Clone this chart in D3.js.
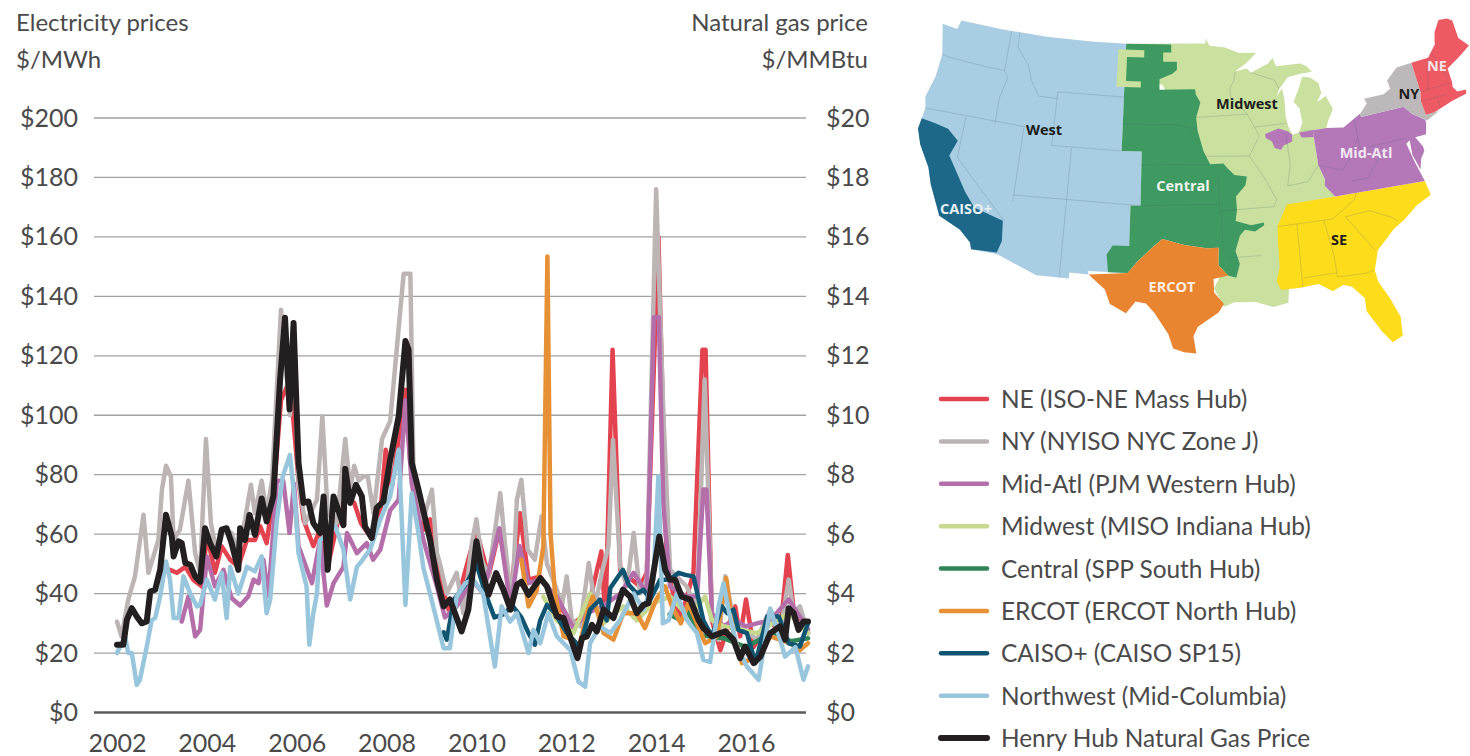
<!DOCTYPE html>
<html><head><meta charset="utf-8">
<script src="https://cdn.jsdelivr.net/npm/d3@7"></script>
<style>
html,body{margin:0;padding:0;background:#fff;overflow:hidden}
svg{display:block}
text{font-family:Lato,"Open Sans",sans-serif;fill:#4a4a4a}
</style></head><body>
<svg id="c" width="1470" height="756"></svg>
<script>
// ---- tick labels ----
const yearTicks=[2002,2004,2006,2008,2010,2012,2014,2016];
const priceTicks=[0,20,40,60,80,100,120,140,160,180,200];
const gasTicks=[0,2,4,6,8,10,12,14,16,18,20];
// ---- series: [year, $/MWh] ----
const nePrice=[[2003.18,48],[2003.33,47],[2003.52,49],[2003.7,44.6],[2003.89,42.4],[2004,60],[2004.18,47],[2004.33,55.9],[2004.52,51.4],[2004.7,49],[2004.89,58],[2005.07,58],[2005.19,62.6],[2005.33,57],[2005.48,72.7],[2005.65,105],[2005.85,112],[2006.04,78],[2006.15,65],[2006.26,60.4],[2006.37,56],[2006.52,61.5],[2006.69,49],[2006.89,62.6],[2007.08,72.7],[2007.28,70.5],[2007.43,63.7],[2007.65,59],[2007.87,69],[2007.98,88.4],[2008.12,76],[2008.42,108.6],[2008.53,84],[2008.82,61.5],[2008.97,65],[2009.12,49],[2009.38,34.6],[2009.56,36.8],[2010,61.5],[2010.27,45.8],[2010.51,61.5],[2010.76,40],[2010.97,67],[2011.16,44.7],[2011.42,45.8],[2011.71,39],[2011.9,34.6],[2012.16,30],[2012.46,33.4],[2012.78,54.2],[2012.87,31],[2013.03,122],[2013.2,48],[2013.64,42.4],[2013.79,47],[2014.05,160],[2014.24,48],[2014.54,31],[2014.83,47],[2015.03,122],[2015.1,122],[2015.24,31],[2015.43,21],[2015.65,31],[2015.76,35.7],[2015.87,25.6],[2016,38],[2016.17,22],[2016.54,31],[2016.76,26.7],[2016.93,53],[2017.06,34.6],[2017.2,31],[2017.38,26.7]];
const nyPrice=[[2002,30.6],[2002.1,25.6],[2002.25,38],[2002.4,45.8],[2002.59,66.5],[2002.7,47],[2002.92,58],[2003,75],[2003.09,83],[2003.2,79.5],[2003.26,58],[2003.4,61.5],[2003.59,78],[2003.74,53.6],[2003.85,47],[2003.98,92],[2004.09,63.7],[2004.22,53.6],[2004.37,61.5],[2004.55,60.4],[2004.7,53.6],[2004.85,64.9],[2004.98,76.6],[2005.07,67],[2005.22,78],[2005.33,67],[2005.45,78],[2005.65,135.5],[2005.85,100],[2005.93,125],[2006.04,78],[2006.19,63.7],[2006.45,71.6],[2006.57,99.7],[2006.69,67],[2006.89,63.7],[2007.08,92],[2007.19,75],[2007.28,83],[2007.38,78],[2007.49,79.5],[2007.58,79.5],[2007.71,67],[2007.9,92],[2008.08,98],[2008.38,147.6],[2008.53,147.6],[2008.6,80],[2008.71,67],[2008.82,65],[2009.01,75],[2009.12,53.6],[2009.19,50],[2009.34,40],[2009.56,47],[2009.71,33.4],[2009.9,57],[2010,65],[2010.12,51.4],[2010.27,45.8],[2010.53,73.8],[2010.64,56],[2010.79,35.7],[2010.9,71.6],[2011,78.3],[2011.14,54.8],[2011.3,51.4],[2011.45,66],[2011.57,50],[2011.79,41.3],[2011.9,35.7],[2012.01,45.8],[2012.12,31.2],[2012.31,29],[2012.5,50.3],[2012.64,35.7],[2012.79,47],[2012.94,56],[2013.04,91.7],[2013.2,49],[2013.35,42.4],[2013.5,60.4],[2013.64,40],[2013.79,44.7],[2014,176],[2014.16,100.8],[2014.31,48],[2014.68,42.4],[2014.91,34.6],[2015.08,112],[2015.24,33.4],[2015.39,24.5],[2015.54,45.8],[2015.72,31.2],[2015.98,27.8],[2016.24,24.5],[2016.54,34.6],[2016.76,26.7],[2016.95,44.7],[2017.06,33.4],[2017.2,35.7],[2017.38,26.7]];
const midAtlPrice=[[2003.44,30.6],[2003.59,39],[2003.74,25.6],[2003.85,27.8],[2004,52.5],[2004.18,42.4],[2004.37,48],[2004.55,38.5],[2004.74,36],[2004.92,39],[2005.04,44.7],[2005.15,43.5],[2005.26,51.4],[2005.37,39],[2005.56,78],[2005.7,78],[2005.84,60.4],[2005.94,77],[2006.04,56],[2006.34,43.5],[2006.52,58],[2006.67,36],[2006.82,43.5],[2007.04,49],[2007.12,60.4],[2007.34,53.6],[2007.56,57],[2007.7,51.4],[2007.86,54.8],[2008.08,68],[2008.27,71.6],[2008.42,105],[2008.56,77],[2008.82,58],[2009.12,42.4],[2009.3,32],[2009.56,35.7],[2009.9,44.7],[2010.15,40],[2010.51,62],[2010.76,35.7],[2010.96,56],[2011.16,43.5],[2011.42,44.7],[2011.79,39],[2012.16,28.4],[2012.46,33.4],[2012.81,35.7],[2013.2,40],[2013.5,47],[2013.79,40],[2013.95,133],[2014.06,133],[2014.16,70],[2014.31,42.4],[2014.68,39],[2014.91,39],[2015.05,75],[2015.12,75],[2015.24,33.4],[2015.5,29],[2015.72,31],[2016,29],[2016.24,30],[2016.54,31],[2016.95,38],[2017.38,28]];
const midwestPrice=[[2011.49,39],[2011.79,31],[2012.16,26.7],[2012.53,40],[2012.83,30],[2013.27,35.7],[2013.57,31],[2013.94,36.8],[2014.31,39],[2014.72,32.3],[2015.09,39],[2015.24,31],[2015.5,29],[2016.24,26.7],[2016.95,33.4],[2017.38,26.7]];
const centralPrice=[[2014.3,33],[2014.55,31],[2014.7,34],[2015,26],[2015.5,25],[2016,22],[2016.6,27],[2017,24],[2017.38,25]];
const ercotPrice=[[2011,51.4],[2011.16,35.7],[2011.34,41],[2011.49,56],[2011.58,153.4],[2011.65,60],[2011.75,40],[2011.94,25.6],[2012.16,24.5],[2012.27,21],[2012.46,33.4],[2012.59,39],[2012.83,26.7],[2013.05,24.5],[2013.27,33.4],[2013.57,33.4],[2013.75,28.4],[2014,38],[2014.2,42.4],[2014.35,35.7],[2014.55,30],[2014.72,36.8],[2015.09,23.3],[2015.35,25.6],[2015.56,45.2],[2015.72,26.7],[2015.91,16.6],[2016.24,18.8],[2016.54,25.6],[2016.98,23.3],[2017.2,21],[2017.38,23.3]];
const caisoPrice=[[2009.27,27],[2009.34,24.5],[2009.5,38],[2009.8,44],[2010,50],[2010.2,40],[2010.4,32],[2010.6,33],[2010.8,36],[2011,32],[2011.16,26.7],[2011.3,22.8],[2011.42,31],[2011.57,36.2],[2011.75,33.4],[2012,27],[2012.3,22],[2012.53,34.6],[2012.75,38],[2012.9,31],[2012.98,41.9],[2013.26,48],[2013.39,43],[2013.57,40],[2013.72,41.3],[2013.87,38],[2014.09,44.7],[2014.31,44.7],[2014.5,47],[2014.65,46.3],[2014.83,45.8],[2015.05,31],[2015.24,25.6],[2015.46,35.7],[2015.58,33.4],[2015.72,34.6],[2015.83,27.8],[2016.02,26.7],[2016.21,16.6],[2016.47,32.3],[2016.73,32.3],[2016.95,23.3],[2017.2,22.2],[2017.38,30]];
const northwestPrice=[[2002,20],[2002.18,25.6],[2002.25,20],[2002.33,20],[2002.44,9.3],[2002.51,11],[2002.66,22],[2002.77,31],[2002.85,31.8],[2002.96,39],[2003.09,50.8],[2003.18,44.7],[2003.26,31.8],[2003.37,31.8],[2003.48,45.8],[2003.63,40],[2003.78,35.7],[2003.85,36.2],[2004,44.7],[2004.18,38],[2004.33,47],[2004.44,31.8],[2004.52,49],[2004.7,40],[2004.89,49],[2005.07,47.5],[2005.22,52.5],[2005.33,33.4],[2005.41,38],[2005.56,65],[2005.69,79.5],[2005.85,86.7],[2005.97,69],[2006.04,53.6],[2006.22,42.4],[2006.28,22.8],[2006.37,33.4],[2006.45,40],[2006.52,58],[2006.86,62.6],[2007.04,54.8],[2007.19,38],[2007.34,49],[2007.45,51],[2007.64,55],[2007.86,64.9],[2008.08,72.7],[2008.27,88.4],[2008.42,36.2],[2008.56,73.8],[2008.71,60.4],[2008.82,48.6],[2009.05,35],[2009.27,21.6],[2009.41,21.6],[2009.56,39],[2009.75,43.5],[2009.93,44.7],[2010.15,40],[2010.41,15.5],[2010.56,35.7],[2010.75,30.6],[2010.9,33.4],[2011.16,20],[2011.27,27.8],[2011.42,23.3],[2011.6,33.4],[2011.79,25.6],[2012.09,21],[2012.27,10.4],[2012.42,8.7],[2012.53,23.3],[2012.75,29],[2012.98,26.7],[2013.2,31.2],[2013.5,40],[2013.72,34.6],[2013.94,44.7],[2014.05,79.5],[2014.15,30],[2014.28,31],[2014.46,40],[2014.68,31.2],[2014.91,26.7],[2015.05,17.7],[2015.2,17],[2015.39,35.7],[2015.5,43.5],[2015.61,34.6],[2015.8,22],[2016.02,15.5],[2016.28,11],[2016.54,35],[2016.76,24.5],[2016.87,18.8],[2017.1,22],[2017.28,11],[2017.38,15.5]];
const henryHubOnPriceScale=[[2002,22.8],[2002.14,22.8],[2002.22,31.2],[2002.33,35.1],[2002.44,32.3],[2002.55,30],[2002.66,30.6],[2002.74,40.7],[2002.85,41.3],[2002.96,48],[2003.09,66.5],[2003.22,59.2],[2003.26,52.5],[2003.37,57.6],[2003.44,57],[2003.52,50.3],[2003.63,49.7],[2003.74,45.8],[2003.85,44],[2003.96,62],[2004.07,57],[2004.21,52.5],[2004.33,61.5],[2004.44,62],[2004.55,57],[2004.7,48],[2004.74,62],[2004.85,58],[2004.95,66.5],[2005.07,59.8],[2005.22,72],[2005.33,64.3],[2005.48,72.7],[2005.63,112],[2005.74,132.8],[2005.84,102],[2005.93,131],[2006.04,84],[2006.15,70.5],[2006.26,71],[2006.37,63.7],[2006.52,60.4],[2006.6,72.7],[2006.69,48],[2006.82,72.7],[2007.04,63],[2007.08,82],[2007.19,70.5],[2007.32,76.6],[2007.45,72.7],[2007.52,62.6],[2007.67,58.7],[2007.78,68.8],[2007.93,71],[2008.08,85],[2008.27,99.7],[2008.42,125],[2008.49,122],[2008.56,84],[2008.71,75],[2008.97,58],[2009.12,44.7],[2009.27,35.7],[2009.41,38],[2009.67,27.3],[2009.82,34.6],[2010,57.6],[2010.12,48],[2010.27,39.6],[2010.44,46.9],[2010.6,41.3],[2010.76,34.6],[2010.9,43],[2011,44],[2011.16,39.6],[2011.42,45.2],[2011.57,42.4],[2011.79,32.3],[2011.94,31.8],[2012.25,18.3],[2012.35,25],[2012.46,25.6],[2012.57,29.5],[2012.68,27.3],[2012.83,34.6],[2013.05,31.8],[2013.26,41.3],[2013.42,39],[2013.57,33.4],[2013.72,36.2],[2013.83,36.8],[2014.07,59.2],[2014.2,48],[2014.31,44.7],[2014.42,44.7],[2014.57,39],[2014.76,38],[2014.94,31.2],[2015.05,28.4],[2015.24,25.6],[2015.54,27.3],[2015.72,24.5],[2015.87,18.3],[2015.98,22.2],[2016.17,16.6],[2016.32,18.8],[2016.54,26.7],[2016.76,29],[2016.87,24.5],[2016.95,35.1],[2017.06,33.4],[2017.17,27.8],[2017.28,30.6],[2017.38,30.6]];
const seriesNames=["NE (ISO-NE Mass Hub)","NY (NYISO NYC Zone J)","Mid-Atl (PJM Western Hub)","Midwest (MISO Indiana Hub)","Central (SPP South Hub)","ERCOT (ERCOT North Hub)","CAISO+ (CAISO SP15)","Northwest (Mid-Columbia)","Henry Hub Natural Gas Price"];
const seriesData=[nePrice,nyPrice,midAtlPrice,midwestPrice,centralPrice,ercotPrice,caisoPrice,northwestPrice,henryHubOnPriceScale];
// ---- map regions: [lon, lat] ----
const midwestRegion=[[-104.05,49],[-95.15,49],[-95.15,49.38],[-94.7,48.8],[-93,48.6],[-91.5,48.1],[-89.6,48],[-90.8,47.3],[-92.1,46.75],[-90.8,46.9],[-90.4,46.55],[-88.4,47.1],[-87.9,47.47],[-87.6,46.8],[-85,46.75],[-84.4,46.5],[-83.9,46],[-85,46],[-86.5,45.9],[-87.6,45.1],[-88,44.55],[-87.3,45.1],[-87.2,44.3],[-87.3,43],[-87.2,42.3],[-86.9,41.6],[-86.2,41.7],[-85.7,42.4],[-85.8,43.5],[-86.3,44],[-85.5,45],[-85,45.75],[-84.2,45.6],[-83.4,45.1],[-83.3,44.3],[-83.9,43.7],[-82.9,44.05],[-82.4,43],[-83.1,42.2],[-83.4,41.7],[-84.8,41.7],[-84.8,39.1],[-84.4,38],[-84.5,37.5],[-83.7,36.6],[-88,36.5],[-88,31],[-89,30.35],[-89.2,29.3],[-90.5,29.1],[-92,29.6],[-93.8,29.7],[-94.7,29.4],[-95.5,30.8],[-94,33],[-96,40],[-100,46],[-104.05,46]];
const westRegion=[[-124.7,48.4],[-123,48.3],[-122.75,49],[-118,49],[-113,49],[-108,49],[-104.05,49],[-104.05,45],[-104.05,41],[-102.05,41],[-102.05,37],[-103,37],[-103,32],[-106.6,32],[-106.5,31.75],[-108.2,31.78],[-108.2,31.33],[-111.07,31.33],[-114.8,32.5],[-117.1,32.53],[-117.3,33],[-118.4,33.8],[-120.5,34.5],[-121.9,36.6],[-122.5,37.8],[-123.8,39.3],[-124.4,40.4],[-124.2,42],[-124.5,42.8],[-124,44.5],[-123.9,46.2]];
const caisoRegion=[[-124.3,41.2],[-123,41.1],[-121.5,40.9],[-120.3,40.2],[-120.8,39],[-118.6,36.6],[-117.5,35.6],[-114.7,35],[-114.5,33.5],[-114.8,32.6],[-117.1,32.53],[-117.3,33],[-118.4,33.8],[-120.5,34.5],[-121.9,36.6],[-122.5,37.8],[-123.8,39.3],[-124.4,40.4]];
const centralRegion=[[-104.05,49],[-99,49],[-99,48.4],[-99.9,48.4],[-99.9,47.7],[-98.4,47.7],[-98.4,47.1],[-98.9,46.8],[-100.3,46.4],[-100.3,45.6],[-96.5,45.6],[-96.45,45.2],[-96,44.6],[-96.5,43.5],[-96.4,42.5],[-95.9,41],[-95.3,40],[-94,40],[-93.6,39.6],[-93,39.1],[-91.8,38.9],[-92,38.3],[-93,37.5],[-93,36.5],[-93.2,35.7],[-91.8,35.3],[-90.6,35.4],[-90.6,35.2],[-91.5,34.8],[-92.4,35],[-92.9,34.6],[-93.4,33.5],[-93.1,32.5],[-93.5,31.5],[-94.2,31.7],[-95,32.5],[-94.9,33.8],[-96,33.8],[-98,34.1],[-100,34.56],[-100.8,34],[-102.2,32.9],[-103.06,32],[-104.8,32],[-105,33.3],[-104.5,34],[-103,34],[-103,37],[-102.05,37],[-102.05,41],[-104.05,41],[-104.05,45]];
const midwestHook=[[-104.9,48.55],[-102,48.55],[-102,48],[-103.9,48],[-103.9,46.2],[-102.3,46.2],[-102.3,45.75],[-104.9,45.75]];
const ercotRegion=[[-106.5,31.75],[-103.06,32],[-102.2,32.9],[-100.8,34],[-100,34.56],[-98,34.1],[-96,33.8],[-94.9,33.8],[-95,32.5],[-94.2,31.7],[-95.5,31.5],[-95.5,30.5],[-94.7,29.6],[-95.2,29],[-97,28],[-97.4,27.3],[-97.2,26],[-98.2,26.1],[-99.1,26.4],[-99.5,27.5],[-100.7,29.1],[-101.4,29.77],[-102.3,29.9],[-103.1,29],[-104.5,29.65],[-105,30.7]];
const seRegion=[[-89.4,35],[-88.3,36.55],[-83.7,36.6],[-80,36.55],[-75.2,36.3],[-75,35.2],[-76.5,34.7],[-77.9,33.9],[-79,33.4],[-80.8,32.1],[-81.4,30.7],[-81.3,29.8],[-80.6,28.4],[-80.05,26.9],[-80.2,25.5],[-81.1,25.15],[-81.8,26.1],[-82.75,27.8],[-82.7,28.8],[-83.6,29.8],[-84.3,30.05],[-85.3,29.7],[-86.4,30.4],[-88,30.3],[-89.7,30.3],[-90,31],[-89.6,32],[-89.5,34]];
const midAtlRegion=[[-79.76,42.27],[-81.7,41.5],[-83.4,41.7],[-84.8,41.7],[-84.8,39.1],[-84.4,38],[-84.5,37.5],[-83.7,36.6],[-80,36.55],[-75.2,36.3],[-75.4,37],[-75.7,38],[-76,39.3],[-75.6,39.5],[-75.7,38.4],[-75.3,37.2],[-75,37.95],[-74.5,38.45],[-74.5,38.8],[-75,39.6],[-73.9,39.6],[-73.6,40.4],[-73.6,40.65],[-74.7,41.35],[-75.35,42],[-79.76,42]];
const chicagoPatch=[[-89.6,41.9],[-88.2,42.2],[-87.3,41.9],[-86.9,41.6],[-87,41.1],[-87.9,40.9],[-88.2,40.6],[-88.8,40.8],[-89,41.3],[-89.6,41.6]];
const indianaPatch=[[-86.2,41.7],[-85.5,41.7],[-84.8,41.7],[-84.8,41.2],[-86,41.3]];
const nyRegion=[[-79.76,42.27],[-78.9,42.9],[-79.05,43.27],[-77,43.28],[-76.2,43.55],[-76.3,44.2],[-75,44.95],[-73.35,45],[-73.27,42.75],[-73.5,42.05],[-73.4,41],[-72,41],[-73.5,40.55],[-73.6,40.65],[-74.7,41.35],[-75.35,42],[-79.76,42]];
const neRegion=[[-73.4,41],[-73.5,42.05],[-73.27,42.75],[-73.35,45],[-71.5,45],[-71.1,45.3],[-70.4,45.8],[-70.25,46.2],[-70,46.7],[-69.2,47.45],[-68.3,47.35],[-67.8,47.07],[-67.8,45.7],[-67,44.9],[-68.5,44.3],[-69.9,43.8],[-69.9,43.2],[-69.9,42.7],[-70,42.4],[-69.7,41.95],[-68.8,41.9],[-68.9,41.6],[-70.5,41.4],[-72.5,41]];
const regionShapes=[westRegion,midwestRegion,centralRegion,midwestHook,caisoRegion,ercotRegion,seRegion,midAtlRegion,chicagoPatch,indianaPatch,nyRegion,neRegion];
const regionFills=["#a9cde2","#c9e09f","#3e9a61","#c9e09f","#1d6889","#e98531","#fddc1c","#b478b8","#b478b8","#b478b8","#bdb9ba","#ee5a64"];
const stateLines=[[[-124,46.2],[-123,46.1],[-119,46],[-117,46]],[[-117,49],[-117,46],[-116.5,45.5],[-117,44],[-117,42]],[[-124.2,42],[-111.05,42]],[[-116.05,49],[-116,47.9],[-114.5,46.6],[-114,45.6],[-113,44.5],[-111.05,44.5]],[[-111.05,45],[-104.05,45]],[[-111.05,45],[-111.05,41]],[[-111.05,41],[-104.05,41]],[[-120,42],[-120,39],[-114.6,35]],[[-114.05,42],[-114.05,36.5]],[[-114.05,37],[-102.05,37]],[[-109.05,41],[-109.05,31.3]],[[-104.05,43],[-98.5,43],[-96.5,42.6]],[[-102.05,40],[-95.3,40]],[[-102,37],[-94.6,37]],[[-94.6,39.1],[-94.6,36.5]],[[-94.5,36.5],[-94.5,33.6]],[[-96.5,43.5],[-91.2,43.5]],[[-92.1,46.7],[-92.3,46.1],[-92.8,45.5],[-92.8,44.8],[-91.2,43.5]],[[-95.8,40.6],[-91.4,40.4]],[[-91.2,43.5],[-90.2,41.8],[-91.4,40.4],[-90.2,38.8],[-89.2,37],[-89.5,36.5]],[[-90.6,42.5],[-87.3,42.5]],[[-87.5,41.7],[-87.5,39.4],[-88,37.9]],[[-88,37.9],[-86,38],[-84.8,39.1]],[[-94.6,36.5],[-89.5,36.5]],[[-85.9,41.76],[-84.8,41.7]],[[-94,33],[-91.1,33]],[[-90.4,46.55],[-88,45.8],[-87.6,45.1]],[[-87.6,35],[-87.8,30.3]],[[-85.1,35],[-84.7,32.3],[-84.7,31]],[[-89.4,35],[-84.3,35]],[[-84.3,35],[-82,36.1],[-81.7,36.6]],[[-83.1,35],[-81,32.1]],[[-83.1,35],[-80.8,35.1],[-79,34.3],[-78.5,33.9]],[[-87.6,31],[-84.7,31],[-84.7,30.7],[-82.2,30.6],[-81.5,30.7]],[[-80.5,42],[-80.5,39.7],[-75.8,39.7]],[[-80.5,40.6],[-81.7,39.2],[-82.6,38.4],[-84.8,39.1]],[[-82,37.5],[-80.3,37.5],[-78.4,39.2]],[[-72.5,42.75],[-71.5,45]],[[-73.27,42.75],[-70,42.7]],[[-73.5,42.05],[-70.8,42]],[[-71.8,42],[-71.8,41.2]],[[-71,45.3],[-70.2,43.1]]];
const mapLabelNames=["West","Midwest","NE","NY","Mid-Atl","Central","CAISO+","SE","ERCOT"];
const mapLabelInk=["#1d1d1b","#1d1d1b","#f7e3e3","#1d1d1b","#f3e6f3","#eef6ee","#e6f0f5","#1d1d1b","#fbeee0"];

// ---- drawing ----
const svg=d3.select("#c");
const colors=["#e2434f","#bdb5b5","#b46fab","#c6d98d","#2f8557","#e79137","#0f5470","#97c6dd","#231f20"];
const widths=[4.5,4.5,4.5,4.5,4.5,4.5,4.5,4.5,6];
const x=d3.scaleLinear().domain([2002,2016]).range([117,746]);
const yL=d3.scaleLinear().domain([0,200]).range([712.5,118]);
const yR=d3.scaleLinear().domain([0,20]).range([712.5,118]);
const FS=25;

const gridL=svg.append("g").attr("transform","translate(94,0)")
  .call(d3.axisLeft(yL).tickValues(priceTicks).tickFormat(d=>"$"+d).tickSize(0).tickPadding(16));
gridL.select(".domain").remove();
gridL.selectAll("text").attr("font-size",FS).style("font-family","Lato,sans-serif");
const gridR=svg.append("g").attr("transform","translate(806,0)")
  .call(d3.axisRight(yR).tickValues(gasTicks).tickFormat(d=>"$"+d).tickSize(0).tickPadding(20));
gridR.select(".domain").remove();
gridR.selectAll("text").attr("font-size",FS).style("font-family","Lato,sans-serif");
svg.append("g").selectAll("line").data(priceTicks).join("line")
  .attr("x1",94).attr("x2",806).attr("y1",d=>yL(d)).attr("y2",d=>yL(d))
  .attr("stroke",d=>d===0?"#5c5c5c":"#a2a2a2").attr("stroke-width",d=>d===0?2.6:1.3);
const ax=svg.append("g").attr("transform","translate(0,728)")
  .call(d3.axisBottom(x).tickValues(yearTicks).tickFormat(d3.format("d")).tickSize(0).tickPadding(6));
ax.select(".domain").remove();
ax.selectAll("text").attr("font-size",FS).style("font-family","Lato,sans-serif");

const line=d3.line().x(d=>x(d[0])).y(d=>yL(d[1]));
svg.append("g").attr("fill","none").attr("stroke-linejoin","round").attr("stroke-linecap","round")
  .selectAll("path").data(seriesData).join("path")
  .attr("d",line).attr("stroke",(d,i)=>colors[i]).attr("stroke-width",(d,i)=>widths[i]);

const titles=[["Electricity prices",16,31,"start"],["$/MWh",16,68,"start"],["Natural gas price",868,31,"end"],["$/MMBtu",868,68,"end"]];
svg.append("g").selectAll("text").data(titles).join("text")
  .text(d=>d[0]).attr("x",d=>d[1]).attr("y",d=>d[2]).attr("text-anchor",d=>d[3]).attr("font-size",24);

// map
const asRing=r=>{const c=r.concat([r[0]]);const g={type:"Polygon",coordinates:[c]};
  if(d3.geoArea(g)>6.2)g.coordinates=[c.slice().reverse()];return g;};
const regionGeo=regionShapes.map(asRing);
const projection=d3.geoAlbers().parallels([29.5,45.5]).rotate([100,0]).center([0,37.5])
  .fitExtent([[918,12],[1469,360]],{type:"GeometryCollection",geometries:regionGeo});
const path=d3.geoPath(projection);
svg.append("g").selectAll("path").data(regionGeo).join("path")
  .attr("d",path).attr("fill",(d,i)=>regionFills[i]);
svg.append("g").attr("fill","none").attr("stroke","#3c5a6a").attr("stroke-opacity",.22).attr("stroke-width",.9)
  .selectAll("path").data(stateLines).join("path")
  .attr("d",d=>path({type:"LineString",coordinates:d}));
const labelXY=[[1044,130],[1247,104],[1437,66],[1409,94],[1366,153],[1183,186],[966,209],[1339,240],[1172,287]];
svg.append("g").selectAll("text").data(mapLabelNames).join("text")
  .text(d=>d).attr("x",(d,i)=>labelXY[i][0]).attr("y",(d,i)=>labelXY[i][1]+5)
  .attr("text-anchor","middle").attr("font-size",14.5).attr("font-weight",700)
  .style("fill",(d,i)=>mapLabelInk[i]).style("font-family","'Open Sans',sans-serif");

// legend
const legendY=d3.scalePoint().domain(seriesNames).range([399,738]);
const lg=svg.append("g").selectAll("g").data(seriesNames).join("g")
  .attr("transform",d=>`translate(0,${legendY(d)})`);
lg.append("line").attr("x1",941).attr("x2",987).attr("stroke",(d,i)=>colors[i])
  .attr("stroke-width",(d,i)=>i===8?6:4.5).attr("stroke-linecap","round");
lg.append("text").text(d=>d).attr("x",1001).attr("y",9).attr("font-size",24.4);
</script></body></html>
